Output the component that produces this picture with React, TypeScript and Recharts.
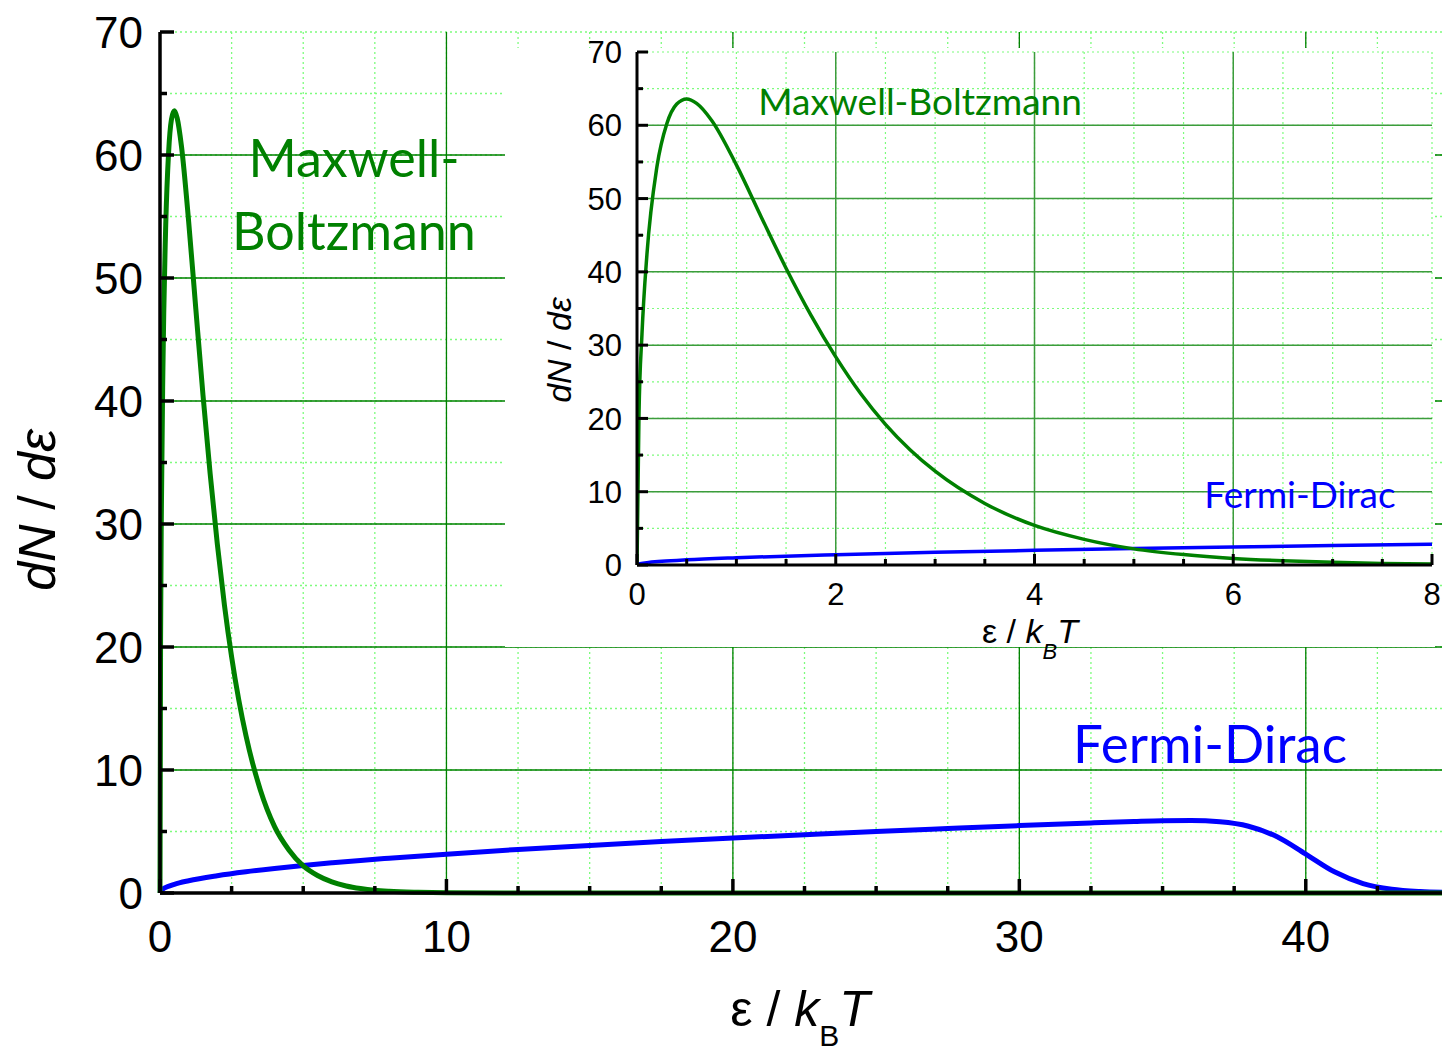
import React from 'react';
import { LineChart, Line, XAxis, YAxis, CartesianGrid } from 'recharts';

// energies (in units of kT) and counts
const mbEnergy = [0, 0.02, 0.05, 0.1, 0.2, 0.3, 0.4, 0.5, 0.6, 0.75, 1, 1.25, 1.5, 1.75, 2, 2.25, 2.5, 2.75, 3, 3.5, 4, 4.5, 5, 5.5, 6, 6.5, 7, 7.5, 8, 9, 10, 12, 15, 20, 25, 30, 35, 40, 45];
const mbCounts = [0, 20.6, 31.5, 42.4, 54.3, 60.2, 62.9, 63.6, 63.0, 60.7, 54.6, 47.5, 40.5, 34.1, 28.4, 23.4, 19.2, 15.7, 12.8, 8.4, 5.4, 3.5, 2.2, 1.42, 0.9, 0.57, 0.36, 0.22, 0.14, 0.06, 0.02, 0, 0, 0, 0, 0, 0, 0, 0];

const fdEnergy = [0, 0.02, 0.1, 0.25, 0.5, 1, 2, 3, 4, 5, 6, 7, 8, 10, 12.5, 15, 17.5, 20, 22.5, 25, 27.5, 30, 32.5, 34, 35, 36, 37, 38, 39, 40, 41, 42, 43, 44, 45];
const fdCounts = [0, 0.14, 0.32, 0.5, 0.71, 1.0, 1.41, 1.73, 2.0, 2.24, 2.45, 2.65, 2.83, 3.16, 3.54, 3.87, 4.18, 4.47, 4.74, 5.0, 5.24, 5.48, 5.7, 5.82, 5.88, 5.89, 5.79, 5.43, 4.57, 3.16, 1.72, 0.77, 0.31, 0.12, 0.05];

const mainXTicks = [0, 2.5, 5, 7.5, 10, 12.5, 15, 17.5, 20, 22.5, 25, 27.5, 30, 32.5, 35, 37.5, 40, 42.5, 45];
const mainYTicks = [0, 5, 10, 15, 20, 25, 30, 35, 40, 45, 50, 55, 60, 65, 70];
const insetXTicks = [0, 0.5, 1, 1.5, 2, 2.5, 3, 3.5, 4, 4.5, 5, 5.5, 6, 6.5, 7, 7.5, 8];
const insetYTicks = [0, 5, 10, 15, 20, 25, 30, 35, 40, 45, 50, 55, 60, 65, 70];
const mainXMajor = [10, 20, 30, 40];
const mainYMajor = [10, 20, 30, 40, 50, 60];
const insetXMajor = [2, 4, 6];
const insetYMajor = [10, 20, 30, 40, 50, 60];

const green = '#008000';
const blue = '#0000ff';
const minorGreen = '#7dfc7d';

const mbRows = mbEnergy.map((e, i) => ({ e, n: mbCounts[i] }));
const fdRows = fdEnergy.map((e, i) => ({ e, n: fdCounts[i] }));

const isMajor = (v: number, step: number) => Math.abs(v / step - Math.round(v / step)) < 1e-6;

type TickOpts = {
  side: 'bottom' | 'top' | 'left' | 'right';
  step: number;
  big: number;
  small: number;
  width: number;
  font?: number;
  gap?: number;
};

const makeTick = (o: TickOpts) => (props: any) => {
  const { x, y, payload } = props;
  const v = payload.value;
  const major = isMajor(v, o.step);
  const len = major ? o.big : o.small;
  let p = [x, y, x, y - len];
  if (o.side === 'top') p = [x, y, x, y + len];
  if (o.side === 'left') p = [x, y, x + len, y];
  if (o.side === 'right') p = [x, y, x - len, y];
  let label = null;
  if (o.font && major) {
    label = o.side === 'bottom'
      ? <text x={x} y={y + (o.gap || 0)} textAnchor="middle" fontSize={o.font} fill="#000">{String(v)}</text>
      : <text x={x - (o.gap || 0)} y={y + o.font * 0.36} textAnchor="end" fontSize={o.font} fill="#000">{String(v)}</text>;
  }
  return (
    <g>
      <line x1={p[0]} y1={p[1]} x2={p[2]} y2={p[3]} stroke="#000" strokeWidth={o.width} />
      {label}
    </g>
  );
};

const axisStyle = (w: number) => ({ stroke: '#000', strokeWidth: w });

function MainChart() {
  return (
    <LineChart width={1462} height={1054} margin={{ top: 32, right: 13, bottom: 101, left: 60 }}>
      <CartesianGrid stroke={minorGreen} strokeWidth={1.3} strokeDasharray="2 3" horizontalValues={mainYTicks} verticalValues={mainXTicks} />
      <CartesianGrid stroke={green} strokeWidth={1.3} horizontalValues={mainYMajor} verticalValues={mainXMajor} />
      <XAxis dataKey="e" type="number" domain={[0, 45]} ticks={mainXTicks} interval={0} height={60}
        tickSize={0} tickMargin={0} tickLine={false} axisLine={axisStyle(3.5)}
        tick={makeTick({ side: 'bottom', step: 10, big: 14, small: 7, width: 3.5, font: 44, gap: 59 })} />
      <XAxis xAxisId="top" orientation="top" dataKey="e" type="number" domain={[0, 45]} ticks={mainXTicks} interval={0} height={0}
        tickSize={0} tickMargin={0} tickLine={false} axisLine={axisStyle(3.5)}
        tick={makeTick({ side: 'top', step: 10, big: 14, small: 7, width: 3.5 })} />
      <YAxis type="number" domain={[0, 70]} ticks={mainYTicks} interval={0} width={100}
        tickSize={0} tickMargin={0} tickLine={false} axisLine={axisStyle(3.5)}
        tick={makeTick({ side: 'left', step: 10, big: 14, small: 7, width: 3.5, font: 44, gap: 17 })} />
      <YAxis yAxisId="right" orientation="right" type="number" domain={[0, 70]} ticks={mainYTicks} interval={0} width={0}
        tickSize={0} tickMargin={0} tickLine={false} axisLine={axisStyle(3.5)}
        tick={makeTick({ side: 'right', step: 10, big: 14, small: 7, width: 3.5 })} />
      <Line data={fdRows} dataKey="n" type="monotone" stroke={blue} strokeWidth={5} dot={false} isAnimationActive={false} />
      <Line data={mbRows} dataKey="n" type="monotone" stroke={green} strokeWidth={5} dot={false} isAnimationActive={false} />
    </LineChart>
  );
}

function InsetChart() {
  return (
    <LineChart width={940} height={640} margin={{ top: 16, right: 13, bottom: 51, left: 52 }}>
      <CartesianGrid stroke={minorGreen} strokeWidth={1.2} strokeDasharray="2 3" horizontalValues={insetYTicks} verticalValues={insetXTicks} />
      <CartesianGrid stroke="#3c9c3c" strokeWidth={1.5} horizontalValues={insetYMajor} verticalValues={insetXMajor} />
      <XAxis dataKey="e" type="number" domain={[0, 8]} allowDataOverflow ticks={insetXTicks} interval={0} height={60}
        tickSize={0} tickMargin={0} tickLine={false} axisLine={axisStyle(3)}
        tick={makeTick({ side: 'bottom', step: 2, big: 11, small: 6, width: 3, font: 31, gap: 40 })} />
      <XAxis xAxisId="top" orientation="top" dataKey="e" type="number" domain={[0, 8]} allowDataOverflow ticks={insetXTicks} interval={0} height={0}
        tickSize={0} tickMargin={0} tickLine={false} axisLine={axisStyle(3)}
        tick={makeTick({ side: 'top', step: 2, big: 11, small: 6, width: 3 })} />
      <YAxis type="number" domain={[0, 70]} allowDataOverflow ticks={insetYTicks} interval={0} width={80}
        tickSize={0} tickMargin={0} tickLine={false} axisLine={axisStyle(3)}
        tick={makeTick({ side: 'left', step: 10, big: 11, small: 6, width: 3, font: 31, gap: 15 })} />
      <YAxis yAxisId="right" orientation="right" type="number" domain={[0, 70]} ticks={insetYTicks} interval={0} width={0}
        tickSize={0} tickMargin={0} tickLine={false} axisLine={axisStyle(3)}
        tick={makeTick({ side: 'right', step: 10, big: 11, small: 6, width: 3 })} />
      <Line data={fdRows} dataKey="n" type="monotone" stroke={blue} strokeWidth={3.5} dot={false} isAnimationActive={false} />
      <Line data={mbRows} dataKey="n" type="monotone" stroke={green} strokeWidth={3.5} dot={false} isAnimationActive={false} />
    </LineChart>
  );
}

const noteFont = 'Lato, "Open Sans", sans-serif';

function Overlay() {
  return (
    <svg width={1442} height={1054} style={{ position: 'absolute', left: 0, top: 0, pointerEvents: 'none' }}>
      {/* main axis titles */}
      <text transform="translate(55,510) rotate(-90)" textAnchor="middle" fontSize={52} fill="#000">
        <tspan fontStyle="italic">dN</tspan> / <tspan fontStyle="italic">dε</tspan>
      </text>
      <text x={800} y={1026} textAnchor="middle" fontSize={50} fill="#000">
        ε / <tspan fontStyle="italic">k</tspan><tspan fontSize={30} dy={20}>B</tspan><tspan fontStyle="italic" dy={-20}>T</tspan>
      </text>
      {/* inset axis titles */}
      <text transform="translate(571,350) rotate(-90)" textAnchor="middle" fontSize={34} fill="#000">
        <tspan fontStyle="italic">dN</tspan> / <tspan fontStyle="italic">dε</tspan>
      </text>
      <text x={1030} y={643} textAnchor="middle" fontSize={34} fill="#000">
        ε / <tspan fontStyle="italic">k</tspan><tspan fontSize={22} fontStyle="italic" dy={16}>B</tspan><tspan fontStyle="italic" dy={-16}>T</tspan>
      </text>
      {/* curve annotations */}
      <g fontFamily={noteFont}>
        <text x={354} y={177} textAnchor="middle" fontSize={52} fill={green}>Maxwell-</text>
        <text x={354} y={250} textAnchor="middle" fontSize={52} fill={green}>Boltzmann</text>
        <text x={1210} y={763} textAnchor="middle" fontSize={53} fill={blue}>Fermi-Dirac</text>
        <text x={920} y={115} textAnchor="middle" fontSize={37} fill={green}>Maxwell-Boltzmann</text>
        <text x={1300} y={508} textAnchor="middle" fontSize={37} fill={blue}>Fermi-Dirac</text>
      </g>
    </svg>
  );
}

export default function App() {
  return (
    <div style={{ position: 'absolute', left: 0, top: 0, width: 1442, height: 1054, overflow: 'hidden', background: '#fff', fontFamily: '"Liberation Sans", Arial, sans-serif' }}>
      <div style={{ position: 'absolute', left: 0, top: 0 }}>
        <MainChart />
      </div>
      <div style={{ position: 'absolute', left: 505, top: 48, width: 930, height: 599, background: '#fff' }} />
      <div style={{ position: 'absolute', left: 505, top: 36 }}>
        <InsetChart />
      </div>
      <Overlay />
    </div>
  );
}
